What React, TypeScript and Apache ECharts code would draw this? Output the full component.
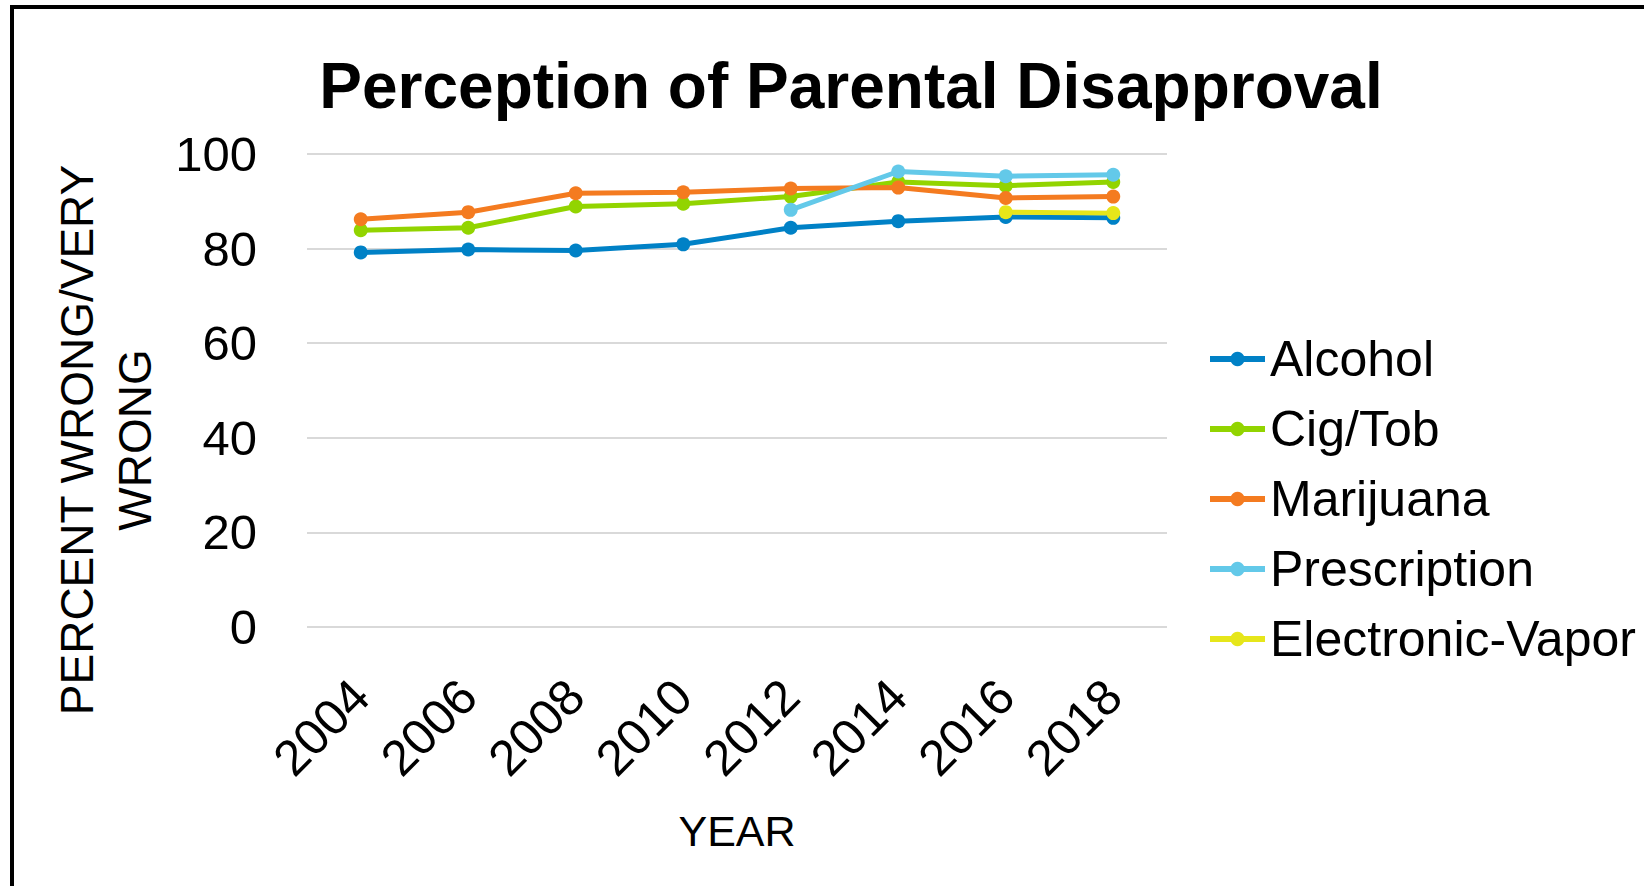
import React, { useEffect, useRef } from "react";
import * as echarts from "echarts";

const years = ["2004", "2006", "2008", "2010", "2012", "2014", "2016", "2018"];
const alcohol = [79.2, 79.8, 79.6, 80.9, 84.4, 85.8, 86.7, 86.5];
const cigTob = [83.9, 84.4, 88.9, 89.5, 91.0, 94.1, 93.3, 94.1];
const marijuana = [86.2, 87.7, 91.7, 91.9, 92.7, 92.9, 90.7, 91.0];
const prescription = [null, null, null, null, 88.2, 96.3, 95.3, 95.6];
const electronicVapor = [null, null, null, null, null, null, 87.7, 87.5];
const seriesNames = ["Alcohol", "Cig/Tob", "Marijuana", "Prescription", "Electronic-Vapor"];
const seriesColors = ["#0081C6", "#92D400", "#F47B20", "#63C9E9", "#E6E61A"];
const yTicks = { min: 0, max: 100, interval: 20 };

const FONT = "'Liberation Sans', Arial, sans-serif";

export default function App() {
  const ref = useRef<HTMLDivElement>(null);
  useEffect(() => {
    document.body.style.margin = "0";
    if (!ref.current) return;
    const chart = echarts.init(ref.current, null, { renderer: "svg" });
    const data = [alcohol, cigTob, marijuana, prescription, electronicVapor];
    chart.setOption({
      animation: false,
      backgroundColor: "#ffffff",
      textStyle: { fontFamily: FONT },
      graphic: [
        {
          type: "rect",
          shape: { x: 12, y: 7, width: 1700, height: 950 },
          style: { fill: "none", stroke: "#000000", lineWidth: 4 },
          silent: true,
        },
        {
          type: "text",
          x: 851,
          y: 86,
          style: {
            text: "Perception of Parental Disapproval",
            font: `bold 64px ${FONT}`,
            fill: "#000000",
            textAlign: "center",
            textVerticalAlign: "middle",
          },
        },
        {
          type: "text",
          x: 106,
          y: 440,
          rotation: Math.PI / 2,
          style: {
            text: "PERCENT WRONG/VERY\nWRONG",
            font: `46px ${FONT}`,
            lineHeight: 58,
            fill: "#000000",
            textAlign: "center",
            textVerticalAlign: "middle",
          },
        },
      ],
      legend: {
        orient: "vertical",
        left: 1202,
        top: 326,
        itemWidth: 55,
        itemHeight: 18,
        itemGap: 14,
        data: seriesNames,
        lineStyle: { width: 6 },
        textStyle: { fontSize: 50, color: "#000000", fontFamily: FONT, lineHeight: 56 },
      },
      grid: { left: 307, right: 477, top: 154, bottom: 259, containLabel: false },
      xAxis: {
        type: "category",
        data: years,
        boundaryGap: true,
        axisLine: { show: false },
        axisTick: { show: false },
        axisLabel: { rotate: 45, margin: 61, fontSize: 50, color: "#000000", fontFamily: FONT },
        name: "YEAR",
        nameLocation: "middle",
        nameGap: 182,
        nameTextStyle: { fontSize: 43, color: "#000000", fontFamily: FONT },
      },
      yAxis: {
        type: "value",
        min: yTicks.min,
        max: yTicks.max,
        interval: yTicks.interval,
        axisLine: { show: false },
        axisTick: { show: false },
        axisLabel: { margin: 50, fontSize: 49, color: "#000000", fontFamily: FONT },
        splitLine: { lineStyle: { color: "#d9d9d9", width: 2 } },
      },
      series: seriesNames.map((name, i) => ({
        name,
        type: "line",
        data: data[i],
        connectNulls: false,
        symbol: "circle",
        symbolSize: 14,
        showSymbol: true,
        color: seriesColors[i],
        lineStyle: { width: 5, color: seriesColors[i] },
        itemStyle: { color: seriesColors[i] },
      })),
    });
    return () => chart.dispose();
  }, []);
  return <div ref={ref} style={{ width: 1644, height: 886 }} />;
}
